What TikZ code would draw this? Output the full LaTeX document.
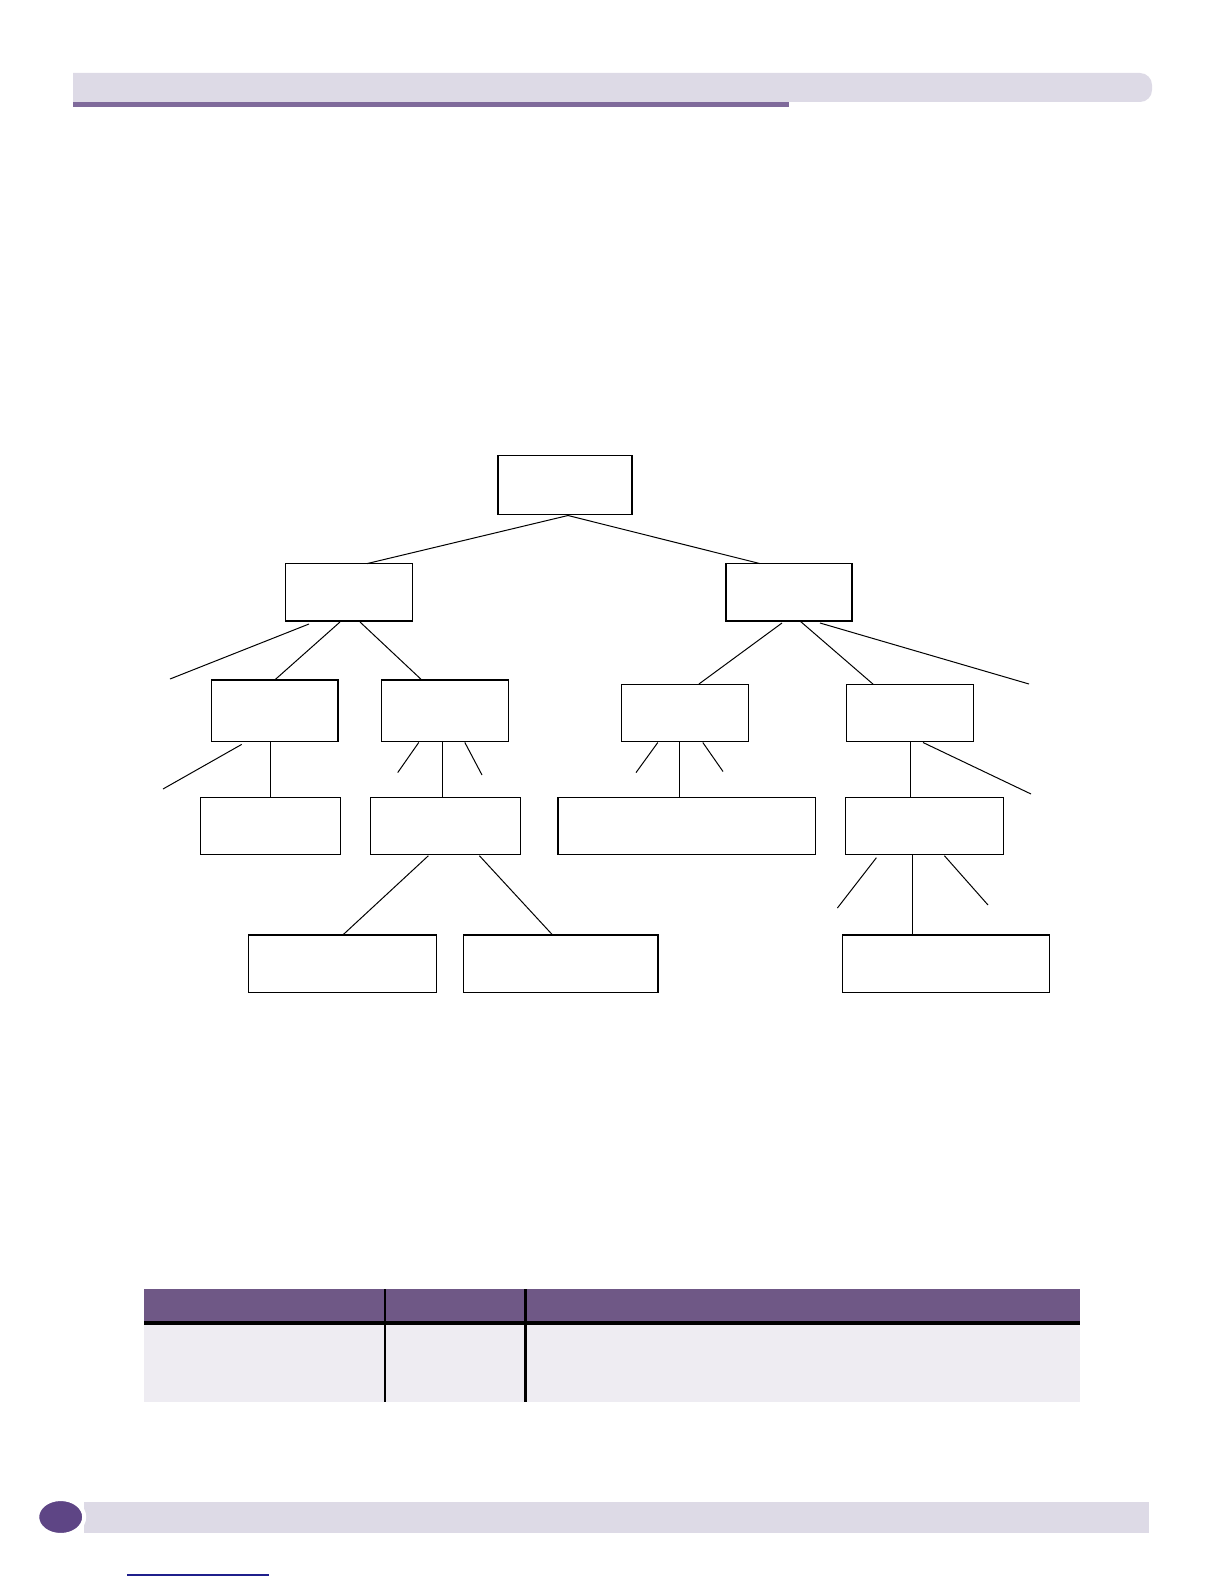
\documentclass[tikz,border=0pt]{standalone}
\usetikzlibrary{calc}

\definecolor{hdrgrey}{HTML}{DDDAE6}
\definecolor{hdrpurple}{HTML}{7F6A9B}
\definecolor{tblhead}{HTML}{6F5886}
\definecolor{tblbody}{HTML}{EEECF2}
\definecolor{ftrdot}{HTML}{5E4585}
\definecolor{linkblue}{HTML}{1F1F8C}

\tikzset{
  box/.style={draw, line width=0.6pt, inner sep=0pt, outer sep=0pt},
  link/.style={line width=0.5pt},
}

\begin{document}
\begin{tikzpicture}[x=0.5pt,y=-0.5pt]
 \useasboundingbox (0,0) rectangle (1224,1584);

 % page header
 \fill[hdrgrey] (73,73) [rounded corners=6pt] -- (1152,73) -- (1152,102) [sharp corners] -- (73,102) -- cycle;
 \fill[hdrpurple] (73,102) rectangle (789,107.5);

 % tree boxes
 \node[box, minimum width=67pt, minimum height=29.5pt] (root) at (565,485) {};

 \node[box, minimum width=63.5pt, minimum height=28.7pt] (l1L) at (349,592.3) {};
 \node[box, minimum width=63pt, minimum height=28.7pt] (l1R) at (789,592.3) {};

 \node[box, minimum width=63.3pt, minimum height=30.7pt] (a) at (274.7,710.7) {};
 \node[box, minimum width=63.3pt, minimum height=30.7pt] (b) at (444.8,710.7) {};
 \node[box, minimum width=63.5pt, minimum height=28.7pt] (c) at (684.8,712.8) {};
 \node[box, minimum width=63.5pt, minimum height=28.7pt] (d) at (910,712.8) {};

 \node[box, minimum width=70.1pt, minimum height=28.5pt] (e) at (270.7,826.2) {};
 \node[box, minimum width=74.7pt, minimum height=28.5pt] (f) at (445.4,826.2) {};
 \node[box, minimum width=128.8pt, minimum height=28.5pt] (g) at (686.8,826.2) {};
 \node[box, minimum width=79pt, minimum height=28.5pt] (h) at (924.4,826.2) {};

 \node[box, minimum width=94pt, minimum height=28.7pt] (i) at (342.8,963.7) {};
 \node[box, minimum width=97.4pt, minimum height=28.7pt] (j) at (560.6,963.7) {};
 \node[box, minimum width=103.5pt, minimum height=28.7pt] (k) at (946,963.7) {};

 % loose ends
 \coordinate (l1Lx) at (170,679);
 \coordinate (l1Rx) at (1029,684);
 \coordinate (ax) at (163,789);
 \coordinate (bx1) at (397.7,772.6);
 \coordinate (bx2) at (482,775);
 \coordinate (cx1) at (636,772.6);
 \coordinate (cx2) at (723,771.5);
 \coordinate (dx) at (1031,794);
 \coordinate (hx1) at (837.4,908);
 \coordinate (hx2) at (988,905);

 % connectors
 \draw[link] ($(root.south)+(3,1)$) -- ($(l1L.north)+(18,0)$);
 \draw[link] ($(root.south)+(3,1)$) -- ($(l1R.north)+(-29,0)$);

 \draw[link] ($(l1L.south)+(-40,3)$) -- (l1Lx);
 \draw[link] ($(l1L.south)+(-9,1)$) -- (a.north);
 \draw[link] ($(l1L.south)+(11,1)$) -- ($(b.north)+(-23,0)$);

 \draw[link] ($(l1R.south)+(-7,2)$) -- ($(c.north)+(14,0)$);
 \draw[link] ($(l1R.south)+(11,0)$) -- ($(d.north)+(-37,0)$);
 \draw[link] ($(l1R.south)+(31,2)$) -- (l1Rx);

 \draw[link] ($(a.south)+(-33,3)$) -- (ax);
 \draw[link] (e.north |- a.south) -- (e.north);

 \draw[link] ($(b.south)+(-26,1)$) -- (bx1);
 \draw[link] ($(b.south)+(-2,0)$) coordinate (bf) -- (bf |- f.north);
 \draw[link] ($(b.south)+(20,1)$) -- (bx2);

 \draw[link] ($(c.south)+(-27,1)$) -- (cx1);
 \draw[link] ($(c.south)+(-5,0)$) coordinate (cg) -- (cg |- g.north);
 \draw[link] ($(c.south)+(18,1)$) -- (cx2);

 \draw[link] (d.south) -- (d.south |- h.north);
 \draw[link] ($(d.south)+(13,1)$) -- (dx);

 \draw[link] ($(f.south)+(-17,1)$) -- (i.north);
 \draw[link] ($(f.south)+(34,1)$) -- ($(j.north)+(-8,0)$);

 \draw[link] ($(h.south)+(-48,3)$) -- (hx1);
 \draw[link] ($(h.south)+(-12,0)$) coordinate (hk) -- (hk |- k.north);
 \draw[link] ($(h.south)+(20,1)$) -- (hx2);

 % table
 \fill[tblhead] (144,1289) rectangle (1080,1322);
 \fill[tblbody] (144,1322) rectangle (1080,1402);
 \draw[line width=2pt] (144,1323) -- (1080,1323);
 \draw[line width=1.3pt] (385,1289) -- (385,1402);
 \draw[line width=1.3pt] (525.5,1289) -- (525.5,1402);

 % page footer
 \fill[hdrgrey] (84,1502) rectangle (1149,1533);
 \filldraw[fill=ftrdot, draw=white, line width=2pt] (60.7,1517) ellipse [x radius=23.5, y radius=18];
 \draw[linkblue, line width=0.7pt] (127,1575) -- (269,1575);
\end{tikzpicture}
\end{document}
